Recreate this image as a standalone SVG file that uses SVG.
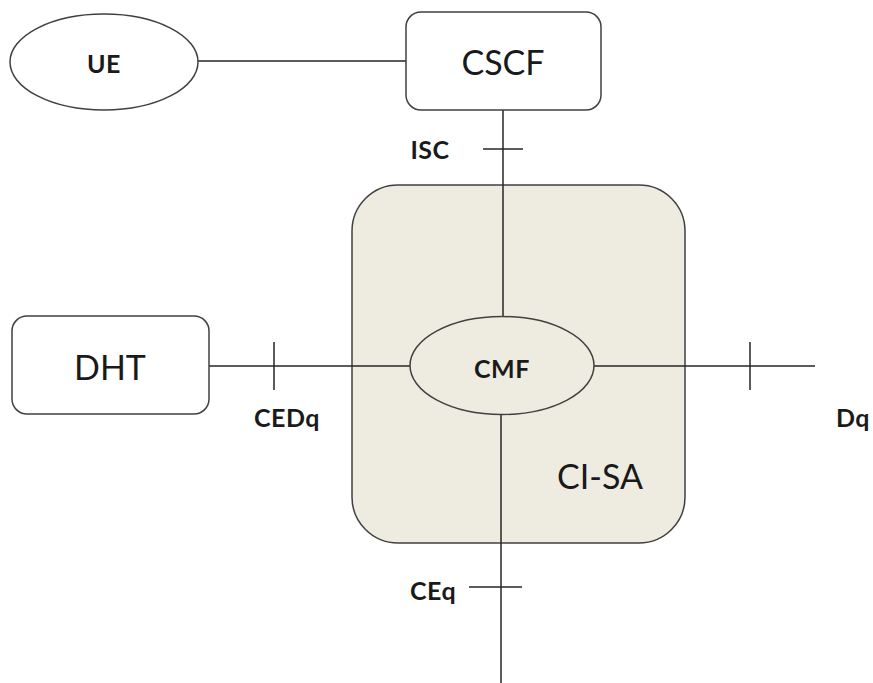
<svg xmlns="http://www.w3.org/2000/svg" width="873" height="683" viewBox="0 0 873 683">
<style>
.n{fill:#fff;stroke:#404040;stroke-width:1.5}
.c{stroke:#262626;stroke-width:1.5;fill:none}
.t{font-family:Lato,"Open Sans",sans-serif;fill:#1a1a1a;text-anchor:middle}
.big{font-size:34px}
.sm{font-size:25px;font-weight:bold;letter-spacing:0.5px}
</style>
<rect width="873" height="683" fill="#fff"/>
<g id="CI-SA">
<rect x="352" y="185" width="333" height="358" rx="46" fill="#EEECE1" stroke="#404040" stroke-width="1.5"/>
<text class="t big" x="600" y="489">CI-SA</text>
</g>
<g id="connectors">
<line class="c" x1="198" y1="61" x2="406" y2="61"/>
<line class="c" x1="503" y1="110" x2="503" y2="316"/>
<line class="c" x1="483" y1="149" x2="523" y2="149"/>
<line class="c" x1="209" y1="366" x2="410" y2="366"/>
<line class="c" x1="274" y1="342" x2="274" y2="390"/>
<line class="c" x1="594" y1="366" x2="815" y2="366"/>
<line class="c" x1="750" y1="342" x2="750" y2="390"/>
<line class="c" x1="501" y1="415" x2="501" y2="683"/>
<line class="c" x1="469" y1="587" x2="522" y2="587"/>
<text class="t sm" x="430" y="159">ISC</text>
<text class="t sm" x="287" y="427">CEDq</text>
<text class="t sm" x="853" y="427">Dq</text>
<text class="t sm" x="433" y="600">CEq</text>
</g>
<g id="UE">
<ellipse class="n" cx="104" cy="62" rx="94" ry="48"/>
<text class="t sm" x="104" y="73">UE</text>
</g>
<g id="CSCF">
<rect class="n" x="406" y="12" width="195" height="98" rx="15"/>
<text class="t big" x="503" y="75">CSCF</text>
</g>
<g id="DHT">
<rect class="n" x="12" y="316" width="197" height="98" rx="15"/>
<text class="t big" x="110" y="380">DHT</text>
</g>
<g id="CMF">
<ellipse cx="502" cy="365.5" rx="92" ry="49" fill="#EEECE1" stroke="#404040" stroke-width="1.5"/>
<text class="t sm" x="502" y="378">CMF</text>
</g>
</svg>
